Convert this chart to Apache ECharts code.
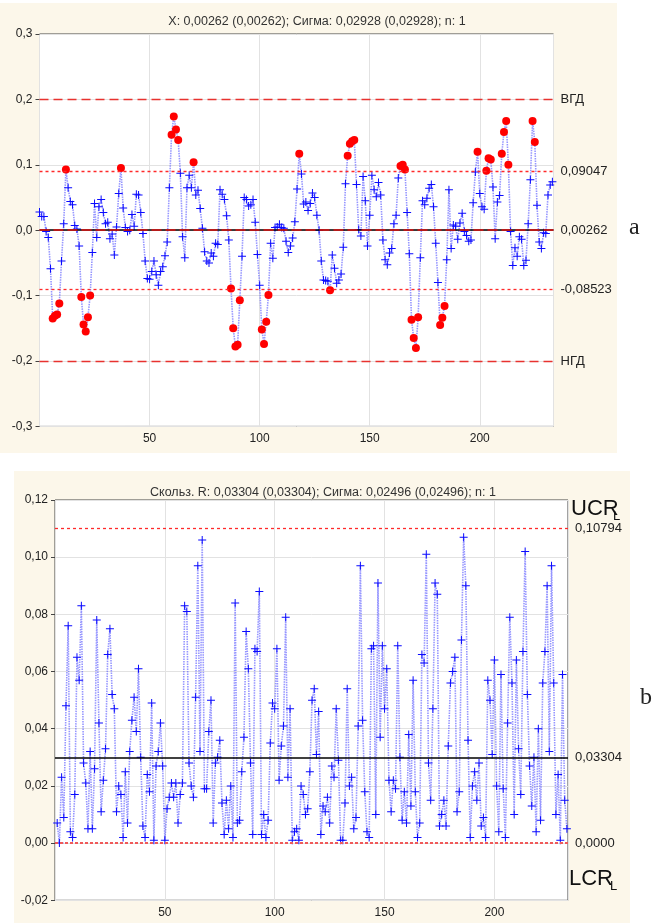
<!DOCTYPE html>
<html><head><meta charset="utf-8">
<script src="https://cdn.jsdelivr.net/npm/echarts@6/dist/echarts.min.js"></script>
<style>html,body{margin:0;padding:0;background:#fff}#c{width:654px;height:923px}</style>
</head><body><div id="c"></div>
<script>
// ---- data ----
const individualX = [
 0.028, 0.021, 0.021,-0.002,-0.011,-0.059,-0.135,-0.131,-0.129,-0.112,
-0.047, 0.010, 0.093, 0.065, 0.044, 0.039, 0.007, 0.002,-0.024,-0.102,
-0.144,-0.155,-0.133,-0.100,-0.034, 0.041,-0.011, 0.036, 0.047, 0.027,
 0.010, 0.012,-0.013,-0.006,-0.038, 0.005, 0.056, 0.095, 0.034, 0.004,
-0.002, 0.000, 0.024, 0.006, 0.055, 0.054, 0.027,-0.005,-0.047,-0.074,
-0.075,-0.063,-0.047,-0.068,-0.084,-0.063,-0.056,-0.039,-0.018, 0.065,
 0.146, 0.174, 0.154, 0.138, 0.087,-0.010,-0.042, 0.065, 0.084, 0.065,
 0.104, 0.054, 0.061, 0.033, 0.003,-0.033,-0.047,-0.050,-0.035,-0.040,
-0.020,-0.022, 0.062, 0.055, 0.047, 0.022,-0.015,-0.089,-0.150,-0.178,
-0.175,-0.107,-0.040, 0.050, 0.047, 0.037, 0.039, 0.047, 0.012,-0.037,
-0.084,-0.152,-0.174,-0.140,-0.099,-0.020,-0.043, 0.004, 0.005, 0.009,
 0.004, 0.003,-0.017,-0.034,-0.024,-0.012, 0.013, 0.063, 0.117, 0.086,
 0.040, 0.043, 0.030, 0.041, 0.057, 0.050, 0.023, 0.000,-0.047,-0.076,
-0.077,-0.078,-0.092,-0.038,-0.058,-0.081,-0.076,-0.067,-0.026, 0.071,
 0.114, 0.132, 0.136, 0.138, 0.070, 0.001,-0.009, 0.082, 0.045,-0.024,
 0.023, 0.084, 0.062, 0.051, 0.073, 0.054,-0.015,-0.045,-0.053,-0.035,
-0.028, 0.010, 0.023, 0.080, 0.098, 0.100, 0.093, 0.027,-0.036,-0.137,
-0.165,-0.180,-0.133,-0.042, 0.045, 0.039, 0.049, 0.064, 0.070, 0.036,
-0.020,-0.080,-0.145,-0.134,-0.116,-0.045, 0.062,-0.028, 0.008, 0.006,
-0.014, 0.011, 0.026,-0.002,-0.008,-0.017,-0.015, 0.042, 0.089, 0.120,
 0.056, 0.036, 0.032, 0.091, 0.110, 0.108, 0.066,-0.013, 0.043, 0.053,
 0.117, 0.150, 0.167, 0.100,-0.002,-0.054,-0.027,-0.040,-0.010,-0.014,
-0.054,-0.046, 0.010, 0.077, 0.167, 0.135, 0.038,-0.018,-0.028,-0.004,
-0.005, 0.054, 0.069, 0.074
];
const movingR = [
 0.007, 0.000, 0.023, 0.009, 0.048, 0.076, 0.004, 0.002, 0.017, 0.065,
 0.057, 0.083, 0.028, 0.021, 0.005, 0.032, 0.005, 0.026, 0.078, 0.042,
 0.011, 0.022, 0.033, 0.066, 0.075, 0.052, 0.047, 0.011, 0.020, 0.017,
 0.002, 0.025, 0.007, 0.032, 0.043, 0.051, 0.039, 0.061, 0.030, 0.006,
 0.002, 0.024, 0.018, 0.049, 0.001, 0.027, 0.032, 0.042, 0.027, 0.001,
 0.012, 0.016, 0.021, 0.016, 0.021, 0.007, 0.017, 0.021, 0.083, 0.081,
 0.028, 0.020, 0.016, 0.051, 0.097, 0.032, 0.106, 0.019, 0.019, 0.039,
 0.050, 0.007, 0.028, 0.030, 0.036, 0.014, 0.003, 0.015, 0.005, 0.020,
 0.002, 0.084, 0.007, 0.008, 0.025, 0.037, 0.074, 0.061, 0.028, 0.003,
 0.068, 0.067, 0.088, 0.003, 0.010, 0.002, 0.008, 0.035, 0.049, 0.047,
 0.068, 0.022, 0.034, 0.041, 0.079, 0.023, 0.047, 0.001, 0.004, 0.005,
 0.001, 0.020, 0.017, 0.010, 0.012, 0.025, 0.050, 0.054, 0.031, 0.046,
 0.003, 0.013, 0.011, 0.016, 0.007, 0.027, 0.023, 0.047, 0.029, 0.001,
 0.001, 0.014, 0.054, 0.020, 0.023, 0.005, 0.009, 0.041, 0.097, 0.043,
 0.018, 0.004, 0.002, 0.068, 0.069, 0.010, 0.091, 0.037, 0.069, 0.047,
 0.061, 0.022, 0.011, 0.022, 0.019, 0.069, 0.030, 0.008, 0.018, 0.007,
 0.038, 0.013, 0.057, 0.018, 0.002, 0.007, 0.066, 0.063, 0.101, 0.028,
 0.015, 0.047, 0.091, 0.087, 0.006, 0.010, 0.015, 0.006, 0.034, 0.056,
 0.060, 0.065, 0.011, 0.018, 0.071, 0.107, 0.090, 0.036, 0.002, 0.020,
 0.025, 0.015, 0.028, 0.006, 0.009, 0.002, 0.057, 0.050, 0.031, 0.064,
 0.020, 0.004, 0.059, 0.019, 0.002, 0.042, 0.079, 0.056, 0.010, 0.064,
 0.033, 0.017, 0.067, 0.102, 0.052, 0.027, 0.013, 0.030, 0.004, 0.040,
 0.008, 0.056, 0.067, 0.090, 0.032, 0.097, 0.056, 0.010, 0.024, 0.001,
 0.059, 0.015, 0.005
];
const xLimitValues = [0.2, 0.09047, 0.00262, 0, -0.08523, -0.2];
const xLimitLabels = ['ВГД', '0,09047', '0,00262', '', '-0,08523', 'НГД'];
const xLimitKinds  = ['spec', 'lim', 'center', 'zero', 'lim', 'spec'];
const rLimitValues = [0.10794, 0.03304, 0];
const rLimitLabels = ['0,10794', '0,03304', '0,0000'];
const rLimitKinds  = ['lim', 'center', 'lcl'];
const xTitle = 'X: 0,00262 (0,00262); Сигма: 0,02928 (0,02928); n: 1';
const rTitle = 'Скольз. R: 0,03304 (0,03304); Сигма: 0,02496 (0,02496); n: 1';

// ---- styling ----
const FONT = '"Liberation Sans", Arial, sans-serif';
const PLUS = 'path://M3.5,0H4.5V8H3.5Z M0,3.5H8V4.5H0Z';
const BLUE = '#0a0aff';
const dataLine = {color: 'rgba(80,80,255,0.6)', width: 1.6, type: [1.5, 1]};
const ucl = xLimitValues[1], lcl = xLimitValues[4];

function kindStyle(kind) {
  switch (kind) {
    case 'spec':   return {color: '#e8322f', width: 1.3, type: [9, 5], opacity: 1};
    case 'lim':    return {color: '#ff2a2a', width: 1.3, type: [3, 3], opacity: 1};
    case 'center': return {color: '#000000', width: 1.5, type: 'solid', opacity: 1};
    case 'zero':   return {color: '#e01010', width: 1.5, type: [10, 4], opacity: 1};
    default:       return {color: '#f05a5a', width: 2, type: [3, 2], opacity: 1};
  }
}

function limitSeries(axis, values, labels, kinds, color) {
  // helper series: carries only the horizontal control lines
  return {
    type: 'line', xAxisIndex: axis, yAxisIndex: axis, silent: true,
    data: values.map(v => [0, v]), symbol: 'none',
    color: color,
    lineStyle: {opacity: 0, width: 0}, z: 2,
    markLine: {
      silent: true, symbol: ['none', 'none'], animation: false,
      lineStyle: {color: color},
      data: values.map((v, k) => ({
        yAxis: v, lineStyle: kindStyle(kinds[k]),
        label: {show: labels[k] !== '', formatter: labels[k], position: 'end', distance: 7,
                color: '#222', fontSize: 13, fontFamily: FONT}
      }))
    }
  };
}

const topData = individualX.map((v, i) => {
  const out = v > ucl || v < lcl;
  return out
    ? {value: [i, v], symbol: 'circle', symbolSize: 8, itemStyle: {color: '#ff0000', borderColor: '#ff0000', borderWidth: 0}}
    : {value: [i, v], symbol: PLUS, symbolSize: 8, itemStyle: {color: BLUE, borderWidth: 0}};
});
const botData = movingR.map((v, k) => ({value: [k + 1, v]}));

const fmt = d => v => { const s = v.toFixed(d).replace('.', ','); return /^-0,0+$/.test(s) ? s.slice(1) : s; };
function xAxisFor(g) {
  return {
    gridIndex: g, type: 'value', min: 0, max: 233.5, interval: 50,
    axisLine: {show: false}, axisTick: {show: false},
    splitLine: {show: true, lineStyle: {color: '#e2e2e2', width: 1}},
    axisLabel: {formatter: v => (v > 0 && v % 50 === 0) ? String(v) : '', color: '#222', fontSize: 12, fontFamily: FONT, margin: 6, showMaxLabel: false}
  };
}
function yAxisFor(g, min, max, step, dec) {
  return {
    gridIndex: g, type: 'value', min: min, max: max, interval: step,
    axisLine: {show: false},
    axisTick: {show: true, length: 4, lineStyle: {color: '#444'}},
    splitLine: {show: true, lineStyle: {color: '#e2e2e2', width: 1}},
    axisLabel: {formatter: fmt(dec), color: '#222', fontSize: 12, fontFamily: FONT, margin: 7}
  };
}

const chart = echarts.init(document.getElementById('c'), null, {renderer: 'canvas'});
chart.setOption({
  animation: false,
  backgroundColor: '#ffffff',
  title: [
    {text: xTitle, left: 312, top: 10, textAlign: 'center', textStyle: {fontSize: 12.5, fontWeight: 'normal', color: '#333', fontFamily: FONT}},
    {text: rTitle, left: 318, top: 481, textAlign: 'center', textStyle: {fontSize: 12.5, fontWeight: 'normal', color: '#333', fontFamily: FONT}}
  ],
  grid: [
    {left: 39.5, top: 34, width: 514, height: 392.4, show: true, backgroundColor: '#fff', borderColor: '#444', borderWidth: 1},
    {left: 55, top: 500, width: 513, height: 400.3, show: true, backgroundColor: '#fff', borderColor: '#444', borderWidth: 1}
  ],
  xAxis: [xAxisFor(0), xAxisFor(1)],
  yAxis: [yAxisFor(0, -0.3, 0.3, 0.1, 1), yAxisFor(1, -0.02, 0.12, 0.02, 2)],
  series: [
    limitSeries(0, xLimitValues, xLimitLabels, xLimitKinds, '#e8322f'),
    limitSeries(1, rLimitValues, rLimitLabels, rLimitKinds, '#e8322f'),
    {type: 'line', xAxisIndex: 0, yAxisIndex: 0, data: topData, lineStyle: dataLine, color: BLUE,
     showAllSymbol: true, z: 3},
    {type: 'line', xAxisIndex: 1, yAxisIndex: 1, data: botData, lineStyle: dataLine, color: BLUE,
     symbol: PLUS, symbolSize: 8, itemStyle: {color: BLUE, borderWidth: 0},
     showAllSymbol: true, z: 3}
  ],
  graphic: [
    {type: 'rect', z: -100, shape: {x: 0, y: 3, width: 617, height: 450}, style: {fill: '#fcf7ea'}},
    {type: 'rect', z: -100, shape: {x: 14, y: 471, width: 616, height: 452}, style: {fill: '#fcf7ea'}},
    {type: 'text', x: 629, y: 228, style: {text: 'a', font: '24px "Liberation Serif", serif', fill: '#222', verticalAlign: 'middle'}},
    {type: 'text', x: 640, y: 698, style: {text: 'b', font: '24px "Liberation Serif", serif', fill: '#222', verticalAlign: 'middle'}},
    {type: 'text', x: 571, y: 509, style: {text: 'UCR', font: '22px "Liberation Sans", Arial, sans-serif', fill: '#111', verticalAlign: 'middle'}},
    {type: 'text', x: 613, y: 516, style: {text: 'L', font: '13px "Liberation Sans", Arial, sans-serif', fill: '#111', verticalAlign: 'middle'}},
    {type: 'text', x: 569, y: 879, style: {text: 'LCR', font: '22px "Liberation Sans", Arial, sans-serif', fill: '#111', verticalAlign: 'middle'}},
    {type: 'text', x: 610, y: 886, style: {text: 'L', font: '13px "Liberation Sans", Arial, sans-serif', fill: '#111', verticalAlign: 'middle'}}
  ]
});
</script>
</body></html>
